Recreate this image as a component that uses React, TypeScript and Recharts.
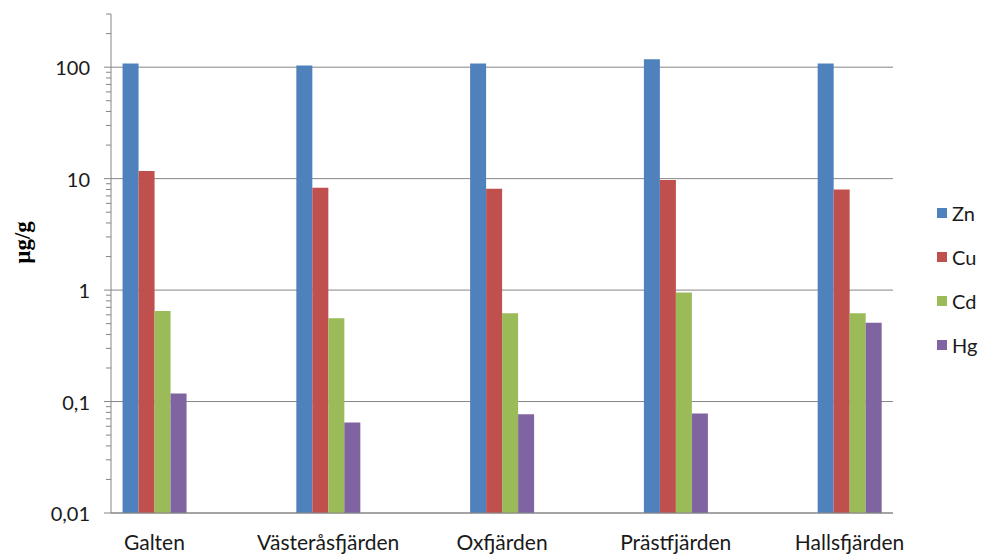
import { BarChart, Bar, XAxis, YAxis, CartesianGrid, Legend } from "recharts";

// sampling sites along the lake, left to right
const sites = ["Galten", "Västeråsfjärden", "Oxfjärden", "Prästfjärden", "Hallsfjärden"];

// metal concentrations, µg/g
const zn = [108, 103.5, 108, 118, 108];
const cu = [11.7, 8.3, 8.1, 9.7, 8.0];
const cd = [0.65, 0.56, 0.62, 0.95, 0.62];
const hg = [0.118, 0.065, 0.077, 0.078, 0.51];

const metals = ["Zn", "Cu", "Cd", "Hg"];
const colors = ["#4F81BD", "#C0504D", "#9BBB59", "#8064A2"];
const series = [zn, cu, cd, hg];

const majorTicks = [0.01, 0.1, 1, 10, 100];
const majorLabels = ["0,01", "0,1", "1", "10", "100"];
const minorSteps = [2, 3, 4, 5, 6, 7, 8, 9];
const yMax = 300;

const minorTicks = majorTicks
  .flatMap((d) => minorSteps.map((k) => k * d))
  .filter((v) => v <= yMax);
const allTicks = [...majorTicks, ...minorTicks].sort((a, b) => a - b);

const data = sites.map((site, i) => {
  const row: Record<string, number | string> = { pos: i, site };
  metals.forEach((m, j) => {
    row[m] = series[j][i];
  });
  return row;
});

const AXIS = "#868686";
const FONT = "Lato, 'Open Sans', sans-serif";

function YTick(props: any) {
  const { x, y, payload } = props;
  const idx = majorTicks.indexOf(payload.value);
  const axisX = x + 21;
  if (idx < 0) {
    return <line x1={axisX - 5} x2={axisX} y1={y} y2={y} stroke={AXIS} strokeWidth={1} />;
  }
  return (
    <g>
      <line x1={axisX - 7} x2={axisX} y1={y} y2={y} stroke={AXIS} strokeWidth={1} />
      <text x={x} y={y} textAnchor="end" dominantBaseline="central" fontSize={20} fontFamily={FONT} fill="#1a1a1a">
        {majorLabels[idx]}
      </text>
    </g>
  );
}

function YLabel(props: any) {
  const vb = props.viewBox || { x: 0, y: 14, width: 111, height: 499 };
  const cx = vb.x + 22;
  const cy = vb.y + vb.height / 2 - 21;
  return (
    <text
      x={cx}
      y={cy}
      transform={`rotate(-90 ${cx} ${cy})`}
      textAnchor="middle"
      dominantBaseline="central"
      fontSize={23}
      fontWeight="bold"
      fontFamily="'Liberation Serif', 'DejaVu Serif', serif"
      fill="#000"
    >
      µg/g
    </text>
  );
}

function LegendList(props: any) {
  const items = [...(props.payload || [])].sort(
    (a: any, b: any) => metals.indexOf(a.value) - metals.indexOf(b.value)
  );
  return (
    <div style={{ fontFamily: FONT, fontSize: 20, color: "#1a1a1a" }}>
      {items.map((it: any) => (
        <div key={it.value} style={{ height: 44, display: "flex", alignItems: "center" }}>
          <span style={{ width: 10, height: 10, background: it.color, marginRight: 5, display: "inline-block" }} />
          <span>{it.value}</span>
        </div>
      ))}
    </div>
  );
}

export default function App() {
  return (
    <div style={{ position: "absolute", left: 0, top: 0, background: "#fff" }}>
      <BarChart
        width={986}
        height={554}
        data={data}
        margin={{ top: 14, right: 93, bottom: 0, left: 0 }}
        barGap={0}
        barSize={16}
      >
        <CartesianGrid vertical={false} horizontalValues={majorTicks} stroke={AXIS} strokeWidth={1} />
        <XAxis
          type="number"
          dataKey="pos"
          domain={[-0.25, 4.25]}
          ticks={[0, 1, 2, 3, 4]}
          tickFormatter={(i: number) => sites[i]}
          allowDataOverflow
          axisLine={{ stroke: AXIS }}
          tickLine={false}
          tickSize={0}
          tickMargin={22}
          height={41}
          tick={{ fontSize: 21, fontFamily: FONT, fill: "#1a1a1a" }}
          interval={0}
        />
        <YAxis
          scale="log"
          domain={[0.01, yMax]}
          allowDataOverflow
          ticks={allTicks}
          interval={0}
          width={111}
          axisLine={{ stroke: AXIS }}
          tickLine={false}
          tickSize={7}
          tickMargin={14}
          tick={<YTick />}
          label={<YLabel />}
        />
        <Legend
          layout="vertical"
          align="center"
          verticalAlign="middle"
          content={<LegendList />}
          wrapperStyle={{ left: 937, top: 191, width: 60 }}
        />
        {metals.map((m, j) => (
          <Bar key={m} dataKey={m} name={m} fill={colors[j]} isAnimationActive={false} />
        ))}
      </BarChart>
    </div>
  );
}
